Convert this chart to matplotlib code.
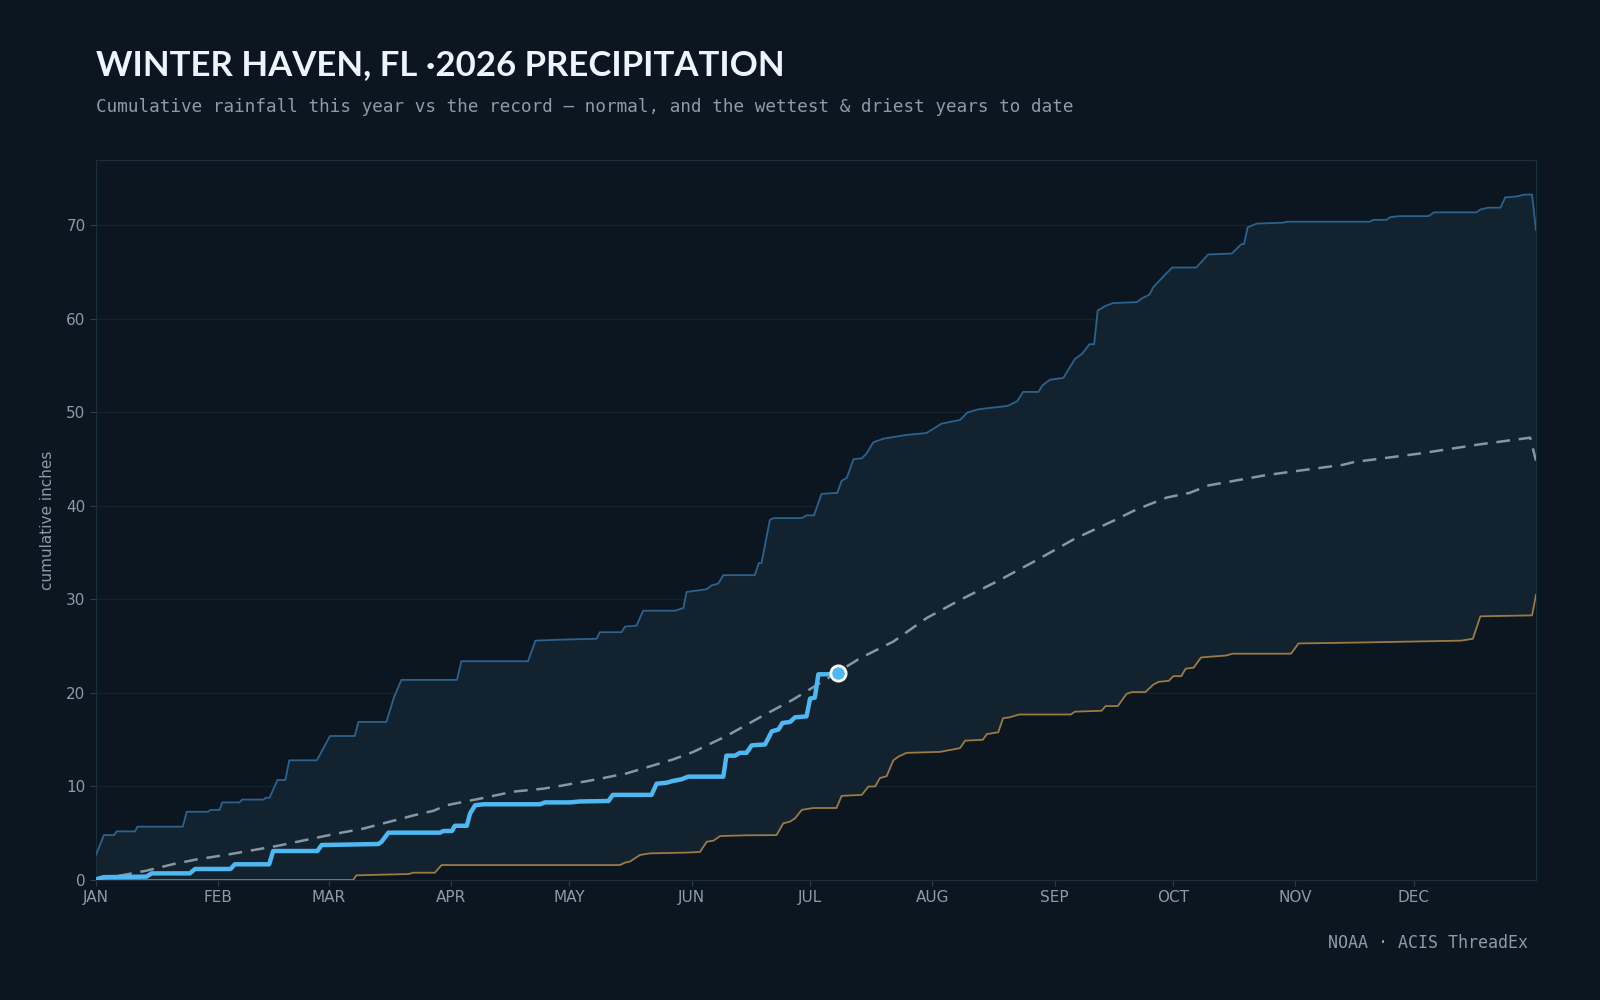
import numpy as np
import matplotlib
matplotlib.use("Agg")
import matplotlib.pyplot as plt

# month starts (day of year, 0 = Jan 1)
month_days = [0, 31, 59, 90, 120, 151, 181, 212, 243, 273, 304, 334]
month_labels = ["JAN", "FEB", "MAR", "APR", "MAY", "JUN", "JUL", "AUG", "SEP", "OCT", "NOV", "DEC"]

# wettest year to date (breakpoints: day, inches)
wet_day = [0, 2, 4.6, 5.2, 9.9, 10.5, 22, 23, 28.5, 29, 31.3, 32, 36.4, 37, 42.5, 43, 44, 46, 48, 49,
           56, 59.3, 65.6, 66.5, 73.6, 75.5, 77.4, 91.5, 92.6, 109.5, 111.4, 117.6, 126.9, 127.7, 133.2,
           134.1, 137.0, 138.7, 146.8, 148.9, 149.7, 154.8, 156.0, 157.7, 159.0, 167.0, 168.0, 168.7,
           170.8, 171.7, 178.9, 180.1, 182.0, 183.9, 187.9, 189.0, 190.3, 192.0, 194.1, 195.3, 197.0,
           199.6, 205.5, 210.5, 214.3, 219.0, 220.9, 223.8, 231.1, 233.5, 235.0, 238.9, 239.9, 241.8,
           245.2, 248.1, 250.0, 251.8, 253.0, 253.9, 255.9, 257.8, 263.8, 265.1, 267.0, 268.0, 270.9,
           272.8, 278.9, 281.9, 287.9, 290.3, 291.0, 291.9, 294.2, 301.0, 301.9, 322.8, 323.8, 327.1,
           328.1, 330.5, 337.8, 339.1, 349.9, 350.9, 352.9, 356.0, 357.2, 360.1, 362.1, 364.0, 365.0]
wet_val = [2.7, 4.8, 4.8, 5.2, 5.2, 5.7, 5.7, 7.3, 7.3, 7.5, 7.5, 8.3, 8.3, 8.6, 8.6, 8.8, 8.8, 10.7, 10.7, 12.8,
           12.8, 15.4, 15.4, 16.9, 16.9, 19.5, 21.4, 21.4, 23.4, 23.4, 25.6, 25.7, 25.8, 26.5, 26.5,
           27.1, 27.2, 28.8, 28.8, 29.1, 30.8, 31.1, 31.5, 31.7, 32.6, 32.6, 33.9, 33.9,
           38.5, 38.7, 38.7, 39.0, 39.0, 41.3, 41.4, 42.7, 43.0, 45.0, 45.1, 45.6, 46.8,
           47.2, 47.6, 47.8, 48.8, 49.2, 50.0, 50.35, 50.7, 51.2, 52.2, 52.2, 52.9, 53.5,
           53.7, 55.7, 56.3, 57.3, 57.3, 60.9, 61.4, 61.7, 61.8, 62.2, 62.6, 63.4, 64.7,
           65.5, 65.5, 66.9, 67.0, 68.0, 68.0, 69.8, 70.2, 70.3, 70.4, 70.4, 70.6, 70.6,
           70.9, 71.0, 71.0, 71.4, 71.4, 71.7, 71.9, 71.9, 73.0, 73.1, 73.3, 73.3, 69.5]

# driest year to date
dry_day = [0, 65.2, 66, 79.2, 80.4, 85.9, 87.6, 132.8, 134.1, 135.3, 137.9, 140.4, 149.7, 153.1, 154.8,
           156.5, 158.2, 164.9, 172.5, 174.2, 175.9, 177.2, 178.9, 181.8, 187.7, 189.0, 194.1, 195.8,
           197.5, 198.7, 200.4, 202.1, 203.4, 205.5, 213.9, 219.0, 220.3, 224.8, 225.8, 228.7, 229.9,
           231.6, 234.0, 247.1, 248.1, 254.9, 255.9, 259.0, 261.2, 262.6, 266.0, 268.0, 269.4, 271.9,
           273.1, 275.1, 276.2, 278.2, 280.1, 283.0, 286.4, 288.1, 302.9, 304.8, 320.8, 346.1, 349.0,
           350.9, 364.0, 365.0]
dry_val = [0, 0, 0.5, 0.64, 0.78, 0.78, 1.6, 1.6, 1.86, 1.96, 2.68, 2.85, 2.93, 3.0, 4.1,
           4.2, 4.7, 4.78, 4.8, 6.06, 6.24, 6.6, 7.5, 7.7, 7.7, 9.0, 9.1, 10.0,
           10.0, 10.9, 11.1, 12.8, 13.2, 13.6, 13.7, 14.1, 14.9, 15.0, 15.6, 15.8, 17.3,
           17.4, 17.7, 17.7, 18.0, 18.1, 18.6, 18.6, 19.9, 20.1, 20.1, 20.9, 21.2, 21.3,
           21.8, 21.8, 22.6, 22.7, 23.8, 23.9, 24.0, 24.2, 24.2, 25.3, 25.4, 25.6, 25.8,
           28.2, 28.3, 30.5]

# normal
norm_day = [0, 6.9, 12.8, 19.6, 25.5, 33.1, 39.9, 46.6, 53.4, 60.2, 67.8, 75.4, 80.4, 85.5, 88.9, 97.3,
            105.8, 113.4, 117.6, 126.1, 134.5, 146.3, 151.4, 159.8, 168.3, 176.7, 185.2, 193.6, 202.1,
            210.5, 219.0, 228.7, 238.4, 248.1, 257.8, 263.6, 271.4, 277.2, 282.0, 296.6, 316.0, 318.9,
            335.4, 350.9, 363.5, 365.0]
norm_val = [0.07, 0.53, 1.0, 1.7, 2.2, 2.7, 3.2, 3.7, 4.3, 4.9, 5.5, 6.34, 6.9, 7.4, 8.0, 8.7,
            9.45, 9.77, 10.06, 10.7, 11.4, 12.9, 13.7, 15.4, 17.4, 19.3, 21.5, 23.7, 25.5,
            28.0, 29.95, 32.0, 34.2, 36.5, 38.4, 39.6, 40.9, 41.4, 42.2, 43.3, 44.4, 44.7,
            45.6, 46.6, 47.3, 44.85]

# 2026 so far
cur_day = [0, 1.9, 12.8, 14.1, 23.8, 25.1, 34.1, 35.2, 43.9, 44.9, 56.1, 57.2, 71.6, 72.4, 74.1, 87.2,
           88.0, 90.2, 91.0, 94.0, 94.8, 96.1, 98.2, 112.5, 113.8, 120.1, 122.7, 129.9, 131.0, 140.8,
           142.1, 144.6, 146.3, 148.4, 150.1, 159.0, 159.8, 162.0, 163.2, 164.9, 166.2, 169.6, 171.3,
           173.0, 174.0, 175.9, 177.2, 180.1, 181.0, 182.2, 183.1, 185.2, 188.2]
cur_val = [0.07, 0.3, 0.36, 0.71, 0.71, 1.18, 1.18, 1.68, 1.68, 3.1, 3.1, 3.74, 3.85, 4.1, 5.06, 5.06,
           5.24, 5.24, 5.8, 5.8, 7.1, 8.0, 8.1, 8.1, 8.3, 8.3, 8.4, 8.45, 9.1, 9.1,
           10.3, 10.4, 10.6, 10.77, 11.05, 11.05, 13.3, 13.3, 13.6, 13.6, 14.4, 14.5, 15.9,
           16.1, 16.8, 16.9, 17.4, 17.5, 19.4, 19.5, 22.0, 22.0, 22.1]

bg = "#0c1620"
grid_c = "#13222f"
text_c = "#8a9bab"

fig = plt.figure(figsize=(16, 10), dpi=100, facecolor=bg)
ax = fig.add_axes([0.06, 0.12, 0.90, 0.72], facecolor=bg)

# envelope between driest and wettest
ax.fill(np.r_[wet_day, dry_day[::-1]], np.r_[wet_val, dry_val[::-1]], color="#12222f", lw=0, zorder=1)
ax.plot(wet_day, wet_val, color="#2b628e", lw=1.3, zorder=3)
ax.plot(dry_day, dry_val, color="#9a7a45", lw=1.3, zorder=3)
ax.plot(norm_day, norm_val, color="#8696a4", lw=1.8, ls=(0, (5.5, 3.5)), zorder=4)
ax.plot(cur_day, cur_val, color="#4db8f2", lw=3.2, zorder=5, solid_joinstyle="round")
ax.plot(cur_day[-1], cur_val[-1], "o", ms=11, mfc="#4db8f2", mec="white", mew=2, zorder=6)

ax.set_xlim(0, 365)
ax.set_ylim(0, 77)
ax.set_xticks(month_days)
ax.set_xticklabels(month_labels)
ax.set_yticks(range(0, 71, 10))
ax.grid(axis="y", color=grid_c, lw=1)
ax.set_axisbelow(True)
ax.tick_params(colors=text_c, labelsize=11, length=4, color="#2a3c4c")
for s in ax.spines.values():
    s.set_color("#1b2e3e")
ax.set_ylabel("cumulative inches", color=text_c, fontsize=11, labelpad=8)

fig.text(0.06, 0.925, "WINTER HAVEN, FL \u00b72026 PRECIPITATION", color="#eef4fa",
         fontsize=25, fontweight="bold", family="Lato", va="baseline")
fig.text(0.06, 0.888, "Cumulative rainfall this year vs the record \u2014 normal, and the wettest & driest years to date",
         color=text_c, fontsize=12.7, family="DejaVu Sans Mono", va="baseline")
fig.text(0.955, 0.052, "NOAA \u00b7 ACIS ThreadEx", color=text_c, fontsize=12,
         family="DejaVu Sans Mono", ha="right", va="baseline")

fig.savefig("out.png", dpi=100, facecolor=bg)
